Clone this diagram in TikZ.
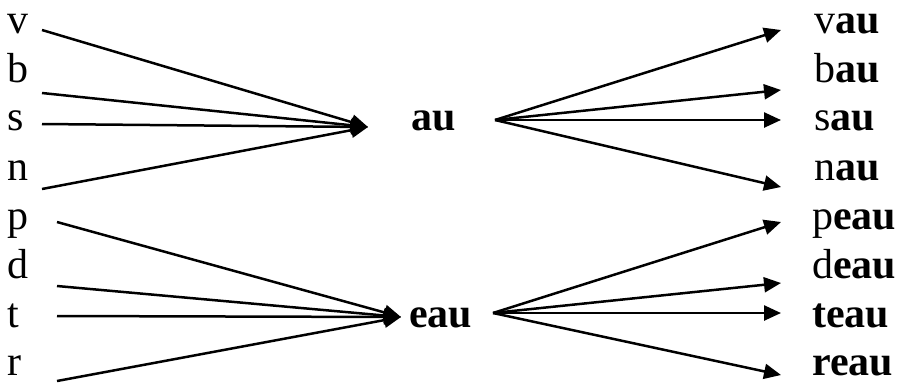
\documentclass[tikz,border=0pt]{standalone}
\usepackage{fontspec}
\setmainfont{Liberation Serif}
\usetikzlibrary{arrows.meta}
\begin{document}
\begin{tikzpicture}[x=1pt,y=-1pt,
  lbl/.style={anchor=base west,inner sep=0pt,font=\fontsize{42}{50}\selectfont},
  conn/.style={line width=2.5pt,-{Triangle[length=17pt,width=15pt]}}]
\useasboundingbox (0,0) rectangle (901,384);
% left letters
\node[lbl] (v) at (7,33) {v};
\node[lbl] (b) at (7,82) {b};
\node[lbl] (s) at (7,130) {s};
\node[lbl] (n) at (7,180) {n};
\node[lbl] (p) at (7,229) {p};
\node[lbl] (d) at (7,278) {d};
\node[lbl] (t) at (7,327) {t};
\node[lbl] (r) at (7,375) {r};
% hubs
\node[lbl] (au) at (411,130) {\textbf{au}};
\node[lbl] (eau) at (409,327) {\textbf{eau}};
% right words
\node[lbl] (vau) at (814,33) {v\textbf{au}};
\node[lbl] (bau) at (814,82) {b\textbf{au}};
\node[lbl] (sau) at (814,130) {s\textbf{au}};
\node[lbl] (nau) at (814,180) {n\textbf{au}};
\node[lbl] (peau) at (812,229) {p\textbf{eau}};
\node[lbl] (deau) at (812,278) {d\textbf{eau}};
\node[lbl] (teau) at (812,327) {\textbf{teau}};
\node[lbl] (reau) at (812,375) {\textbf{reau}};
% connector ends
\coordinate (vS) at (42,30);
\coordinate (bS) at (42,93);
\coordinate (sS) at (42,124);
\coordinate (nS) at (42,189);
\coordinate (auIn) at (368,127);
\coordinate (auOut) at (495,120);
\coordinate (vauE) at (781,30);
\coordinate (bauE) at (781,90);
\coordinate (sauE) at (781,120);
\coordinate (nauE) at (781,187);
\coordinate (pS) at (57,222);
\coordinate (dS) at (57,286);
\coordinate (tS) at (57,316);
\coordinate (rS) at (57,381);
\coordinate (eauIn) at (401,317);
\coordinate (eauOut) at (493,313);
\coordinate (peauE) at (781,222);
\coordinate (deauE) at (781,283);
\coordinate (teauE) at (781,313);
\coordinate (reauE) at (781,375);
% connectors
\foreach \a in {vS,bS,sS,nS} \draw[conn] (\a) -- (auIn);
\foreach \a in {vauE,bauE,sauE,nauE} \draw[conn] (auOut) -- (\a);
\foreach \a in {pS,dS,tS,rS} \draw[conn] (\a) -- (eauIn);
\foreach \a in {peauE,deauE,teauE,reauE} \draw[conn] (eauOut) -- (\a);
\end{tikzpicture}
\end{document}
